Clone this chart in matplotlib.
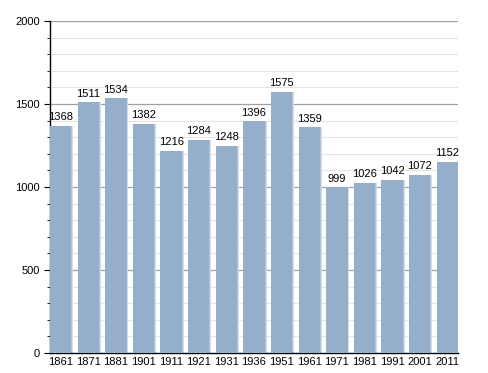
import matplotlib.pyplot as plt
import numpy as np

plt.rcParams["font.family"] = ["Liberation Sans", "DejaVu Sans"]

years = ["1861", "1871", "1881", "1901", "1911", "1921", "1931", "1936",
         "1951", "1961", "1971", "1981", "1991", "2001", "2011"]
population = [1368, 1511, 1534, 1382, 1216, 1284, 1248, 1396,
              1575, 1359, 999, 1026, 1042, 1072, 1152]

W, H = 488, 373
fig = plt.figure(figsize=(W / 100, H / 100), dpi=100)
ax = fig.add_axes([50 / W, 20 / H, 408 / W, 332 / H])

x = np.arange(len(years))
bw = 0.77
# soft shadow on the right side of each bar
ax.bar(x + 0.07, population, width=bw, color="#d3dce6", zorder=2)
ax.bar(x + 0.035, population, width=bw, color="#b4c5d8", zorder=2)
ax.bar(x, population, width=bw, color="#95afcb", zorder=3)

for xi, v in zip(x, population):
    ax.text(xi, v + 22, str(v), ha="center", va="bottom", fontsize=8, zorder=4)

ax.set_xlim(-bw / 2, len(years) - 1 + bw / 2)
ax.set_ylim(0, 2000)
ax.set_yticks(range(0, 2001, 500))
ax.set_yticks(range(0, 2001, 100), minor=True)
ax.set_xticks(x)
ax.set_xticklabels(years)

for y in range(100, 2001, 100):
    if y % 500 == 0:
        ax.axhline(y, color="#a0a0a0", linewidth=0.9, zorder=1)
    else:
        ax.axhline(y, color="#e4e4e4", linewidth=0.8, zorder=1)

for s in ["top", "right"]:
    ax.spines[s].set_visible(False)
ax.spines["left"].set_linewidth(1.0)
ax.spines["bottom"].set_linewidth(1.0)
ax.tick_params(axis="y", which="major", length=4, labelsize=8)
ax.tick_params(axis="y", which="minor", length=2)
ax.tick_params(axis="x", length=0, labelsize=8, pad=3)

fig.savefig("out.png", dpi=100)
